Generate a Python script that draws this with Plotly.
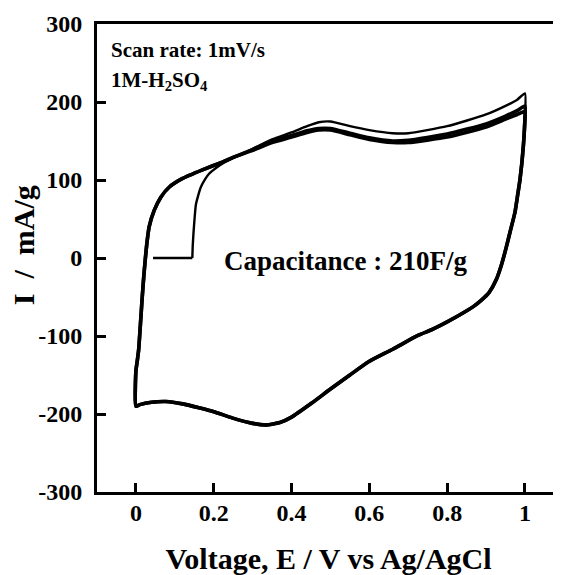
import plotly.graph_objects as go

# ---- data (E in V, I in mA/g) ----
start_v = [0.044, 0.145]
start_i = [0, 0]

init_v = [0.145, 0.146, 0.148, 0.151, 0.154, 0.160, 0.167, 0.178, 0.188, 0.205, 0.222, 0.245, 0.270]
init_i = [0, 15, 32, 52, 68, 80, 91, 101, 108, 115, 121, 127, 133]

left_v = [0.000, 0.000, 0.004, 0.007, 0.012, 0.016, 0.020, 0.024, 0.028, 0.034, 0.047, 0.064, 0.086, 0.120, 0.171, 0.222, 0.250]
left_i = [-190, -145, -130, -118, -82, -52, -25, -2, 18, 40, 61, 78, 91, 102, 113, 123, 129]

up_v = [0.30, 0.35, 0.40, 0.44, 0.47, 0.50, 0.55, 0.60, 0.66, 0.70, 0.80, 0.90, 0.95, 0.98, 1.00]
up1_i = [140, 152, 161, 169, 174, 175, 169, 164, 160, 160, 169, 184, 195, 203, 211]
up2_i = [139, 150, 157, 163, 166, 166, 160, 154, 150, 151, 159, 172, 182, 189, 195]
up3_i = [138, 148, 155, 161, 164, 164, 158, 152, 148, 148, 155, 168, 178, 184, 188]

cat_v = [1.000, 0.998, 0.996, 0.992, 0.987, 0.981, 0.974, 0.963, 0.952, 0.940, 0.926, 0.908,
         0.888, 0.868, 0.846, 0.800, 0.760, 0.726, 0.660, 0.598, 0.550, 0.500, 0.452, 0.400,
         0.370, 0.334, 0.300, 0.247, 0.200, 0.162, 0.120, 0.077, 0.040, 0.010, 0.000]
cat_i = [180, 160, 145, 122, 100, 80, 58, 36, 14, -8, -28, -44,
         -54, -62, -69, -82, -92, -99, -117, -133, -150, -168, -186, -204,
         -211, -214, -212, -205, -197, -192, -187, -184, -185, -188, -190]

x_ticks = [0, 0.2, 0.4, 0.6, 0.8, 1]
x_tick_text = ["0", "0.2", "0.4", "0.6", "0.8", "1"]
y_ticks = [-300, -200, -100, 0, 100, 200, 300]
y_tick_text = ["-300", "-200", "-100", "0", "100", "200", "300"]

FONT = "Liberation Serif"

fig = go.Figure()
# first-cycle starting segment (straight)
fig.add_trace(go.Scatter(x=start_v, y=start_i, mode="lines",
                         line=dict(color="black", width=2.6),
                         showlegend=False, hoverinfo="skip"))
cycles = [
    (init_v + up_v + cat_v, init_i + up1_i + cat_i, 2.4),
    (left_v + up_v + cat_v, left_i + up2_i + cat_i, 3.6),
    (left_v + up_v + cat_v, left_i + up3_i + cat_i, 3.6),
]
for xs, ys, w in cycles:
    fig.add_trace(go.Scatter(x=xs, y=ys, mode="lines",
                             line=dict(color="black", width=w, shape="spline", smoothing=0.5),
                             showlegend=False, hoverinfo="skip"))

fig.update_layout(
    width=553, height=567,
    margin=dict(l=89, r=1, t=16, b=83),
    paper_bgcolor="white", plot_bgcolor="white",
    font=dict(family=FONT, color="black"),
    xaxis=dict(range=[-0.1, 1.09], tickvals=x_ticks, ticktext=x_tick_text,
               showgrid=False, zeroline=False, showline=True, linecolor="black", linewidth=3,
               mirror=True, ticks="inside", ticklen=9, tickwidth=3, tickcolor="black",
               tickfont=dict(family=FONT, size=24, weight="bold"),
               ticklabelstandoff=-3,
               title=dict(text="Voltage, E / V vs Ag/AgCl", standoff=24,
                          font=dict(family=FONT, size=30, weight="bold"))),
    yaxis=dict(range=[-300, 300], tickvals=y_ticks, ticktext=y_tick_text,
               showgrid=False, zeroline=False, showline=True, linecolor="black", linewidth=3,
               mirror=False, ticks="inside", ticklen=9, tickwidth=3, tickcolor="black",
               tickfont=dict(family=FONT, size=24, weight="bold"),
               ticklabelstandoff=7),
    annotations=[
        dict(text="I  /  mA/g", xref="paper", yref="paper", x=-0.157, y=0.528,
             textangle=-90, showarrow=False, xanchor="center", yanchor="middle",
             font=dict(family=FONT, size=30, weight="bold")),
        dict(text="Scan rate: 1mV/s", xref="x", yref="y", x=-0.069, y=267,
             showarrow=False, xanchor="left", yanchor="middle",
             font=dict(family=FONT, size=21, weight="bold")),
        dict(text="1M-H<sub>2</sub>SO<sub>4</sub>", xref="x", yref="y", x=-0.069, y=227,
             showarrow=False, xanchor="left", yanchor="middle",
             font=dict(family=FONT, size=21, weight="bold")),
        dict(text="Capacitance : 210F/g", xref="x", yref="y", x=0.222, y=-4,
             showarrow=False, xanchor="left", yanchor="middle",
             font=dict(family=FONT, size=27, weight="bold")),
    ],
)

fig.write_html("out.html")
